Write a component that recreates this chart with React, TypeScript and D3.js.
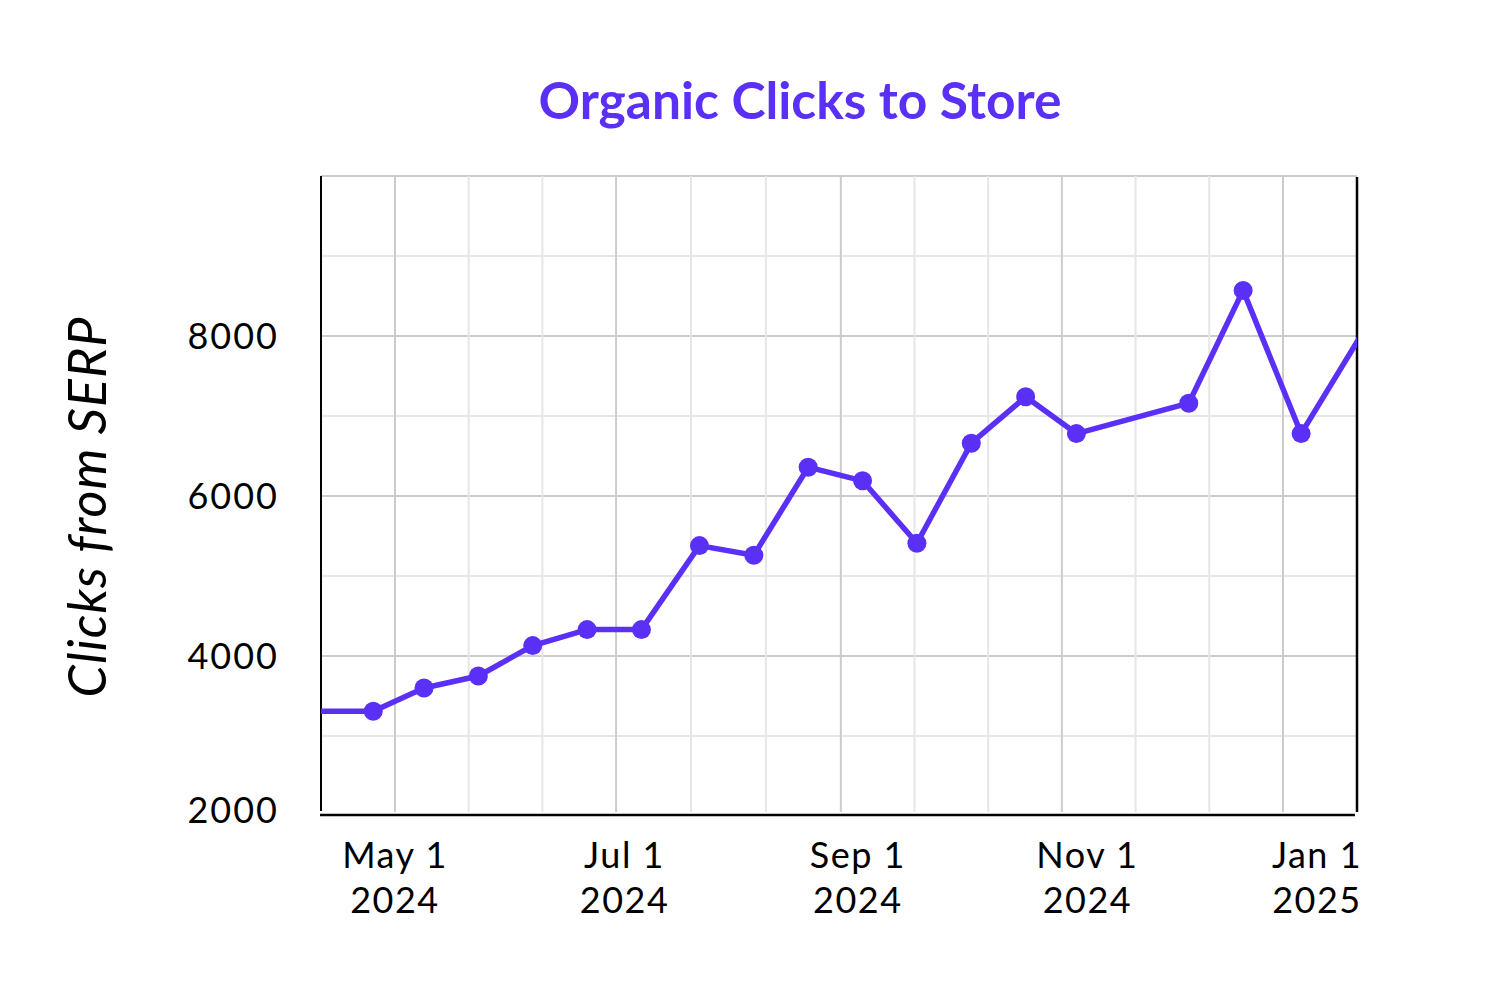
import { useEffect, useRef } from "react";
import * as d3 from "d3";

const TITLE = "Organic Clicks to Store";
const Y_LABEL = "Clicks from SERP";

// one reading roughly every 15 days (the first and last sit just outside the view)
const pointDates = [
  "2024-04-10", "2024-04-25", "2024-05-09", "2024-05-24", "2024-06-08",
  "2024-06-23", "2024-07-08", "2024-07-24", "2024-08-08", "2024-08-23",
  "2024-09-07", "2024-09-22", "2024-10-07", "2024-10-22", "2024-11-05",
  "2024-12-06", "2024-12-21", "2025-01-06", "2025-01-22",
];
const clicks = [
  3310, 3310, 3600, 3750, 4130,
  4330, 4330, 5380, 5260, 6360,
  6190, 5410, 6660, 7240, 6780,
  7160, 8570, 6780, 7970,
];

const xDomain = ["2024-04-10T14:00:00Z", "2025-01-21T10:00:00Z"];
const majorTicks = ["2024-05-01", "2024-07-01", "2024-09-01", "2024-11-01", "2025-01-01"];
const tickMonths = ["May 1", "Jul 1", "Sep 1", "Nov 1", "Jan 1"];
const tickYears = ["2024", "2024", "2024", "2024", "2025"];

const yDomain = [2000, 10000];
const yTicks = [2000, 4000, 6000, 8000];
const yGrid = [3000, 4000, 5000, 6000, 7000, 8000, 9000, 10000];

const PURPLE = "#5b30f6";
const FONT = "Lato, 'Noto Sans', sans-serif";

export default function App() {
  const svgRef = useRef<SVGSVGElement>(null);

  useEffect(() => {
    if (!svgRef.current) return;

    const width = 1500;
    const height = 1000;
    const left = 321;
    const right = 1357;
    const top = 176;
    const bottom = 816;

    const x = d3
      .scaleUtc()
      .domain(xDomain.map((d) => d3.isoParse(d) as Date))
      .range([left, right]);
    const y = d3.scaleLinear().domain(yDomain).range([bottom, top]);

    const svg = d3.select(svgRef.current);
    svg.selectAll("*").remove();
    svg.attr("width", width).attr("height", height);

    svg.append("rect").attr("width", width).attr("height", height).attr("fill", "#fff");

    svg
      .append("defs")
      .append("clipPath")
      .attr("id", "plot-clip")
      .append("rect")
      .attr("x", left)
      .attr("y", top - 20)
      .attr("width", right - left)
      .attr("height", bottom - top + 20);

    const ticks = majorTicks.map((d) => d3.isoParse(d) as Date);

    // minor x gridlines split each two-month span in thirds
    const minor: Date[] = [];
    for (let i = 0; i < ticks.length - 1; i++) {
      const a = ticks[i].getTime();
      const b = ticks[i + 1].getTime();
      minor.push(new Date(a + (b - a) / 3), new Date(a + (2 * (b - a)) / 3));
    }

    const grid = svg.append("g");

    grid
      .selectAll(".hgrid")
      .data(yGrid)
      .enter()
      .append("line")
      .attr("x1", left)
      .attr("x2", right)
      .attr("y1", (d) => y(d))
      .attr("y2", (d) => y(d))
      .attr("stroke", (d) => (d % 2000 === 0 ? "#cccccc" : "#e6e6e6"))
      .attr("stroke-width", 2);

    grid
      .selectAll(".vminor")
      .data(minor)
      .enter()
      .append("line")
      .attr("x1", (d) => x(d))
      .attr("x2", (d) => x(d))
      .attr("y1", top)
      .attr("y2", bottom - 4)
      .attr("stroke", "#e6e6e6")
      .attr("stroke-width", 2);

    grid
      .selectAll(".vmajor")
      .data(ticks)
      .enter()
      .append("line")
      .attr("x1", (d) => x(d))
      .attr("x2", (d) => x(d))
      .attr("y1", top)
      .attr("y2", bottom - 4)
      .attr("stroke", "#cccccc")
      .attr("stroke-width", 2);

    // axis lines
    svg
      .append("line")
      .attr("x1", left)
      .attr("x2", left)
      .attr("y1", top)
      .attr("y2", bottom - 5)
      .attr("stroke", "#000")
      .attr("stroke-width", 2);
    svg
      .append("line")
      .attr("x1", right)
      .attr("x2", right)
      .attr("y1", top + 1)
      .attr("y2", bottom - 4)
      .attr("stroke", "#000")
      .attr("stroke-width", 2.5);
    svg
      .append("line")
      .attr("x1", left - 1)
      .attr("x2", right - 2)
      .attr("y1", bottom - 1)
      .attr("y2", bottom - 1)
      .attr("stroke", "#000")
      .attr("stroke-width", 2.5);

    const points = pointDates.map((d, i) => ({
      date: d3.isoParse(d) as Date,
      value: clicks[i],
    }));

    const line = d3
      .line<{ date: Date; value: number }>()
      .x((d) => x(d.date))
      .y((d) => y(d.value));

    const plot = svg.append("g").attr("clip-path", "url(#plot-clip)");

    plot
      .append("path")
      .datum(points)
      .attr("d", line)
      .attr("fill", "none")
      .attr("stroke", PURPLE)
      .attr("stroke-width", 5.5)
      .attr("stroke-linejoin", "round");

    const [d0, d1] = x.domain();
    plot
      .selectAll(".dot")
      .data(points.filter((p) => p.date >= d0 && p.date <= d1))
      .enter()
      .append("circle")
      .attr("cx", (d) => x(d.date))
      .attr("cy", (d) => y(d.value))
      .attr("r", 9.5)
      .attr("fill", PURPLE);

    // y tick labels
    svg
      .selectAll(".ylab")
      .data(yTicks)
      .enter()
      .append("text")
      .attr("x", 279)
      .attr("y", (d) => y(d) - (d === yDomain[0] ? 6 : 0))
      .attr("dy", "0.36em")
      .attr("text-anchor", "end")
      .attr("font-family", FONT)
      .attr("font-size", 36)
      .attr("letter-spacing", 2)
      .attr("fill", "#000")
      .text((d) => String(d));

    // the tick labels drift a little to the right of their gridlines
    const xLabel = d3
      .scaleUtc()
      .domain([ticks[0], ticks[ticks.length - 1]])
      .range([x(ticks[0]), x(ticks[ticks.length - 1]) + 34]);

    const xl = svg
      .selectAll(".xlab")
      .data(ticks)
      .enter()
      .append("text")
      .attr("text-anchor", "middle")
      .attr("font-family", FONT)
      .attr("font-size", 36)
      .attr("letter-spacing", 1.5)
      .attr("fill", "#000");
    xl.append("tspan")
      .attr("x", (d) => xLabel(d))
      .attr("y", 868)
      .text((_, i) => tickMonths[i]);
    xl.append("tspan")
      .attr("x", (d) => xLabel(d))
      .attr("y", 913)
      .text((_, i) => tickYears[i]);

    svg
      .append("text")
      .attr("transform", "translate(106,507) rotate(-90)")
      .attr("text-anchor", "middle")
      .attr("font-family", FONT)
      .attr("font-style", "italic")
      .attr("font-size", 52)
      .attr("letter-spacing", 1)
      .attr("fill", "#000")
      .text(Y_LABEL);

    svg
      .append("text")
      .attr("x", 800)
      .attr("y", 119)
      .attr("text-anchor", "middle")
      .attr("font-family", FONT)
      .attr("font-weight", 700)
      .attr("font-size", 51.5)
      .attr("fill", PURPLE)
      .text(TITLE);
  }, []);

  return (
    <div>
      <style>{`body { margin: 0; }`}</style>
      <svg ref={svgRef} width={1500} height={1000} style={{ display: "block" }} />
    </div>
  );
}
